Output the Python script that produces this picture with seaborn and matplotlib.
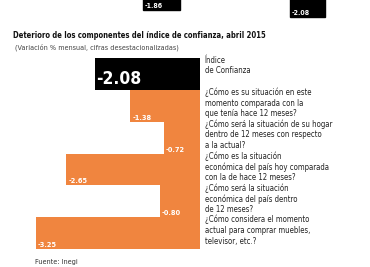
import matplotlib
matplotlib.use("Agg")
import matplotlib.pyplot as plt
import seaborn as sns
import pandas as pd
from matplotlib.patches import Rectangle
from matplotlib import font_manager

categories = ["Índice\nde Confianza",
              "¿Cómo es su situación en este\nmomento comparada con la\nque tenía hace 12 meses?",
              "¿Cómo será la situación de su hogar\ndentro de 12 meses con respecto\na la actual?",
              "¿Cómo es la situación\neconómica del país hoy comparada\ncon la de hace 12 meses?",
              "¿Cómo será la situación\neconómica del país dentro\nde 12 meses?",
              "¿Cómo considera el momento\nactual para comprar muebles,\ntelevisor, etc.?"]
values = [-2.08, -1.38, -0.72, -2.65, -0.80, -3.25]
value_labels = ["-2.08", "-1.38", "-0.72", "-2.65", "-0.80", "-3.25"]
top_values = ["-1.86", "-2.08"]

title = "Deterioro de los componentes del índice de confianza, abril 2015"
subtitle = "(Variación % mensual, cifras desestacionalizadas)"
source = "Fuente: Inegi"

BLACK = "#000000"
ORANGE = "#F0853F"

sns.set_style("white")
plt.rcParams["font.family"] = ["DejaVu Sans"]

has_cond = any("Condensed" in f.fname for f in font_manager.fontManager.ttflist)
COND = dict(family="DejaVu Sans", stretch="condensed") if has_cond else dict(family="DejaVu Sans")

W, H = 370, 267
fig = plt.figure(figsize=(3.7, 2.67), dpi=100)
fig.patch.set_facecolor("white")

def px(x, y):
    return x / W, 1 - y / H

ax = fig.add_axes([0, 1 - 249 / H, 200 / W, (249 - 58) / H])
df = pd.DataFrame({"cat": list(range(len(values))), "val": values})
palette = [BLACK] + [ORANGE] * (len(values) - 1)
sns.barplot(data=df, x="val", y="cat", hue="cat", orient="h", palette=palette,
            width=1.0, legend=False, ax=ax, linewidth=0, saturation=1)
ax.set_xlim(-200 / 50.5, 0)
ax.set_ylim(len(values) - 0.5, -0.5)
ax.axis("off")

for i, (v, lab) in enumerate(zip(values, value_labels)):
    if i == 0:
        ax.text(v + 0.03, i + 0.43, lab, color="white", fontsize=12.5, fontweight="bold",
                ha="left", va="bottom", **COND)
    else:
        ax.text(v + 0.04, i + 0.47, lab, color="white", fontsize=5.3, fontweight="bold",
                ha="left", va="bottom", **COND)
    ax.text(1.025, i - 0.57, categories[i], transform=ax.get_yaxis_transform(),
            fontsize=5.6, color="#222222", ha="left", va="top",
            linespacing=1.22, clip_on=False, **COND)

fig.text(*px(13, 36), title, fontsize=5.5, fontweight="bold", ha="left", va="center",
         color="#111111", **COND)
fig.text(*px(15, 47), subtitle, fontsize=5.2, ha="left", va="center", color="#444444",
         **COND)
fig.text(*px(35, 259), source, fontsize=5.2, ha="left", va="top", color="#333333", **COND)

boxes = [(143, 180, 10), (290, 325, 17)]
for (x0, x1, yb), lab in zip(boxes, top_values):
    fig.patches.append(Rectangle(px(x0, yb), (x1 - x0) / W, yb / H + 0.01,
                                 transform=fig.transFigure, color="black"))
    fig.text(*px(x0 + 2, yb - 1), lab, fontsize=5.0, fontweight="bold", color="white",
             ha="left", va="bottom", **COND)

fig.savefig("out.png", dpi=100, facecolor="white")
